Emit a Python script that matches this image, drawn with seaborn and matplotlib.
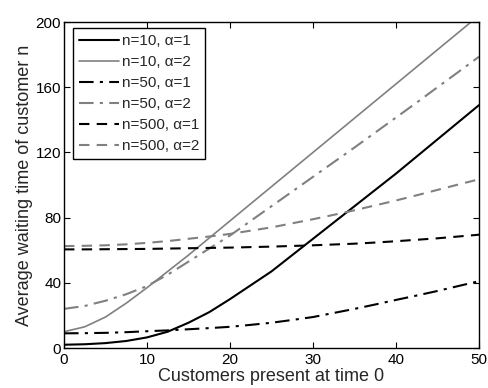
import matplotlib
matplotlib.use("Agg")
import matplotlib.pyplot as plt
import seaborn as sns
import pandas as pd

# Customers present at time 0
customers = [0, 2.5, 5, 7.5, 10, 12.5, 15, 17.5, 20, 22.5, 25, 27.5, 30,
             32.5, 35, 37.5, 40, 42.5, 45, 47.5, 50]

# Average waiting time of customer n for each (n, alpha) case
wait_n10_a1 = [2, 2.3, 3, 4.3, 6.5, 10, 15.5, 22, 30, 38.5, 47, 57, 67,
               77, 87, 97, 107, 117.5, 128, 138.5, 149]
wait_n10_a2 = [10, 13, 19, 27.5, 37, 47, 57, 67.5, 78, 88.5, 99, 109.5, 120,
               130.5, 141, 151.5, 162, 172.5, 183, 193.5, 204]
wait_n50_a1 = [9, 9.1, 9.3, 9.7, 10.3, 10.8, 11.5, 12.2, 13, 14.2, 15.5, 17.2,
               19, 21.5, 24, 26.7, 29.5, 32.2, 35, 38, 41]
wait_n50_a2 = [24, 25.8, 29, 33, 38, 45, 53, 61, 69, 78, 87, 96, 105,
               114, 123, 132.2, 141.4, 150.6, 160, 169.3, 178.7]
wait_n500_a1 = [60.5, 60.5, 60.6, 60.7, 60.8, 61, 61.2, 61.4, 61.6, 61.9, 62.2,
                62.6, 63, 63.5, 64, 64.7, 65.5, 66.4, 67.3, 68.4, 69.5]
wait_n500_a2 = [62.5, 62.7, 63, 63.6, 64.5, 65.6, 67, 68.4, 70, 72, 74, 76.5,
                79, 81.7, 84.5, 87.5, 90.5, 93.7, 97, 100.3, 103.5]

labels = ["n=10, α=1", "n=10, α=2", "n=50, α=1",
          "n=50, α=2", "n=500, α=1", "n=500, α=2"]
series = [wait_n10_a1, wait_n10_a2, wait_n50_a1,
          wait_n50_a2, wait_n500_a1, wait_n500_a2]

black, grey = "#000000", "#808080"
styles = [
    (black, (None, None), 1.5),
    (grey, (None, None), 1.2),
    (black, (7, 3, 1.5, 3), 1.5),
    (grey, (7, 3, 1.5, 3), 1.5),
    (black, (5, 3.5), 1.5),
    (grey, (5, 3.5), 1.5),
]

sns.set_style("ticks")
plt.rcParams["font.family"] = ["Liberation Sans", "DejaVu Sans"]
plt.rcParams["xtick.direction"] = "in"
plt.rcParams["ytick.direction"] = "in"

fig = plt.figure(figsize=(4.88, 3.88), dpi=100)
ax = fig.add_axes([64 / 488, 40 / 388, 415 / 488, 326 / 388])

for lab, vals, (col, dash, lw) in zip(labels, series, styles):
    df = pd.DataFrame({"x": customers, "y": vals})
    sns.lineplot(data=df, x="x", y="y", ax=ax, color=col, lw=lw, label=lab)
    line = ax.lines[-1]
    if dash[0] is not None:
        line.set_dashes(dash)

ax.set_xlim(0, 50)
ax.set_ylim(0, 200)
ax.set_xticks([0, 10, 20, 30, 40, 50])
ax.set_yticks([0, 40, 80, 120, 160, 200])
ax.tick_params(axis="both", which="both", direction="in", length=4,
               width=0.8, labelsize=11, top=True, right=True,
               colors="black")
ax.tick_params(axis="x", pad=3.5)
ax.tick_params(axis="y", pad=2)
for sp in ax.spines.values():
    sp.set_visible(True)
    sp.set_linewidth(1.0)
    sp.set_color("black")

ax.set_xlabel("Customers present at time 0", fontsize=13, labelpad=1)
ax.set_ylabel("Average waiting time of customer n", fontsize=13, labelpad=2)

leg = ax.legend(loc="upper left", bbox_to_anchor=(9 / 415, 1 - 6 / 326),
                borderaxespad=0, fontsize=11, handlelength=2.6,
                handletextpad=0.2, labelspacing=0.46, borderpad=0.4,
                fancybox=False, framealpha=1, edgecolor="black")
leg.get_frame().set_linewidth(1.0)

fig.savefig("out.png", dpi=100)
